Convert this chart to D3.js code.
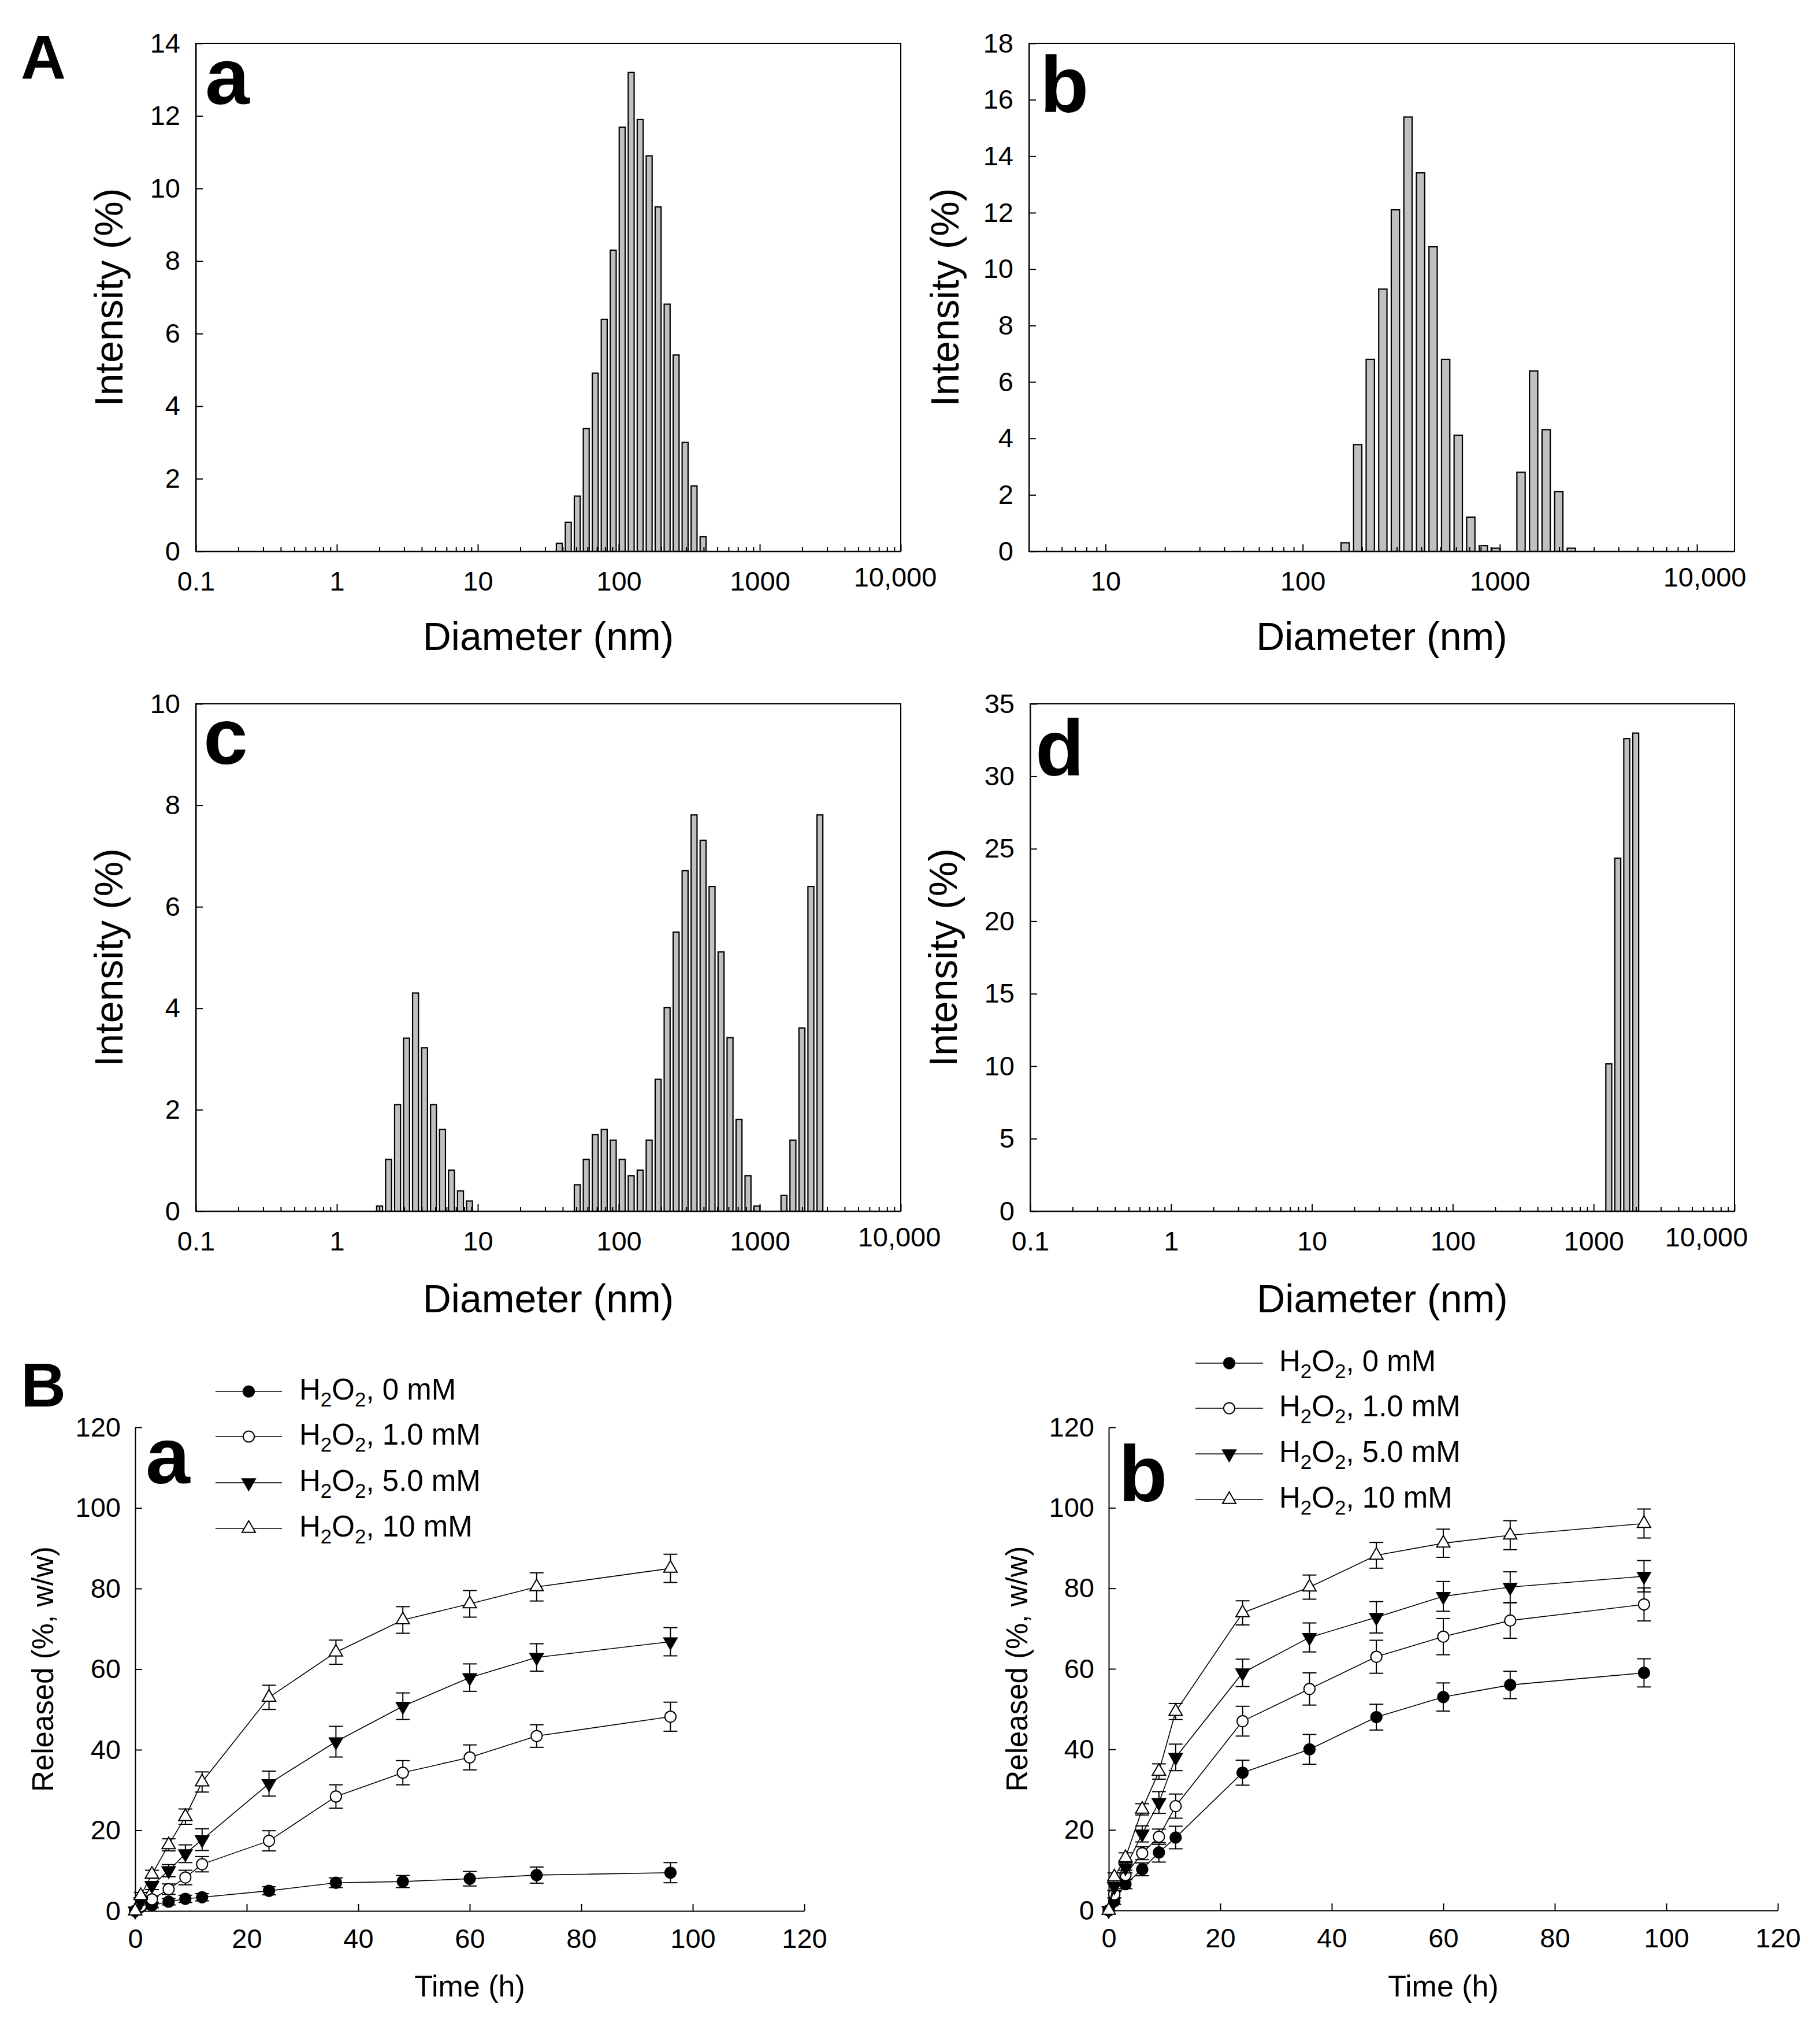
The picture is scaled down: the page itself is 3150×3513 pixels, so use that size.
<!DOCTYPE html>
<html><head><meta charset="utf-8">
<script src="https://cdn.jsdelivr.net/npm/d3@7"></script>
<style>
body{margin:0;background:#fff}
svg{display:block}
text{font-family:"Liberation Sans",Arial,Helvetica,sans-serif;fill:#000}
</style></head>
<body><svg id="fig" width="3150" height="3513"></svg>
<script>
// ---------- DATA ----------
// Panel A: DLS intensity distributions (diameter nm, intensity %)
const diamA_a = [37.84, 43.82, 50.75, 58.77, 68.06, 78.82, 91.28, 105.7, 122.4, 141.8, 164.2, 190.1, 220.2, 255.0, 295.3, 342.0, 396.1];
const intenA_a = [0.22, 0.80, 1.52, 3.38, 4.91, 6.39, 8.30, 11.69, 13.20, 11.90, 10.90, 9.49, 6.81, 5.41, 3.00, 1.80, 0.40];

const diamA_b = [164.2, 190.1, 220.2, 255.0, 295.3, 342.0, 396.1, 458.7, 531.2, 615.1, 712.4, 825.0, 955.4, 1281, 1484, 1718, 1990, 2305];
const intenA_b = [0.30, 3.78, 6.80, 9.29, 12.10, 15.39, 13.41, 10.79, 6.80, 4.11, 1.21, 0.20, 0.11, 2.80, 6.39, 4.31, 2.11, 0.11];

const diamA_c = [2.010, 2.328, 2.696, 3.122, 3.615, 4.187, 4.849, 5.615, 6.503, 7.531, 8.721,
                 50.75, 58.77, 68.06, 78.82, 91.28, 105.7, 122.4, 141.8, 164.2, 190.1, 220.2, 255.0, 295.3, 342.0, 396.1, 458.7, 531.2, 615.1, 712.4, 825.0, 955.4,
                 1484, 1718, 1990, 2305, 2669];
const intenA_c = [0.10, 1.02, 2.10, 3.41, 4.30, 3.22, 2.10, 1.61, 0.81, 0.40, 0.20,
                  0.52, 1.02, 1.51, 1.61, 1.40, 1.02, 0.70, 0.81, 1.40, 2.60, 4.01, 5.50, 6.71, 7.81, 7.31, 6.40, 5.11, 3.42, 1.81, 0.70, 0.10,
                  0.31, 1.40, 3.61, 6.40, 7.81];

const diamA_d = [1281, 1484, 1718, 1990];
const intenA_d = [10.16, 24.35, 32.60, 32.98];

const xTickLabelsLog = [[0.1, "0.1"], [1, "1"], [10, "10"], [100, "100"], [1000, "1000"], [10000, "10,000"]];

// Panel B: release profiles
const times = [0, 1, 3, 6, 9, 12, 24, 36, 48, 60, 72, 96];
const seriesNames = ["0 mM", "1.0 mM", "5.0 mM", "10 mM"];

const Ba_0mM   = [0, 1.0, 1.4, 2.3, 3.0, 3.4, 5.0, 7.0, 7.3, 8.0, 8.9, 9.5];
const Ba_0mM_e = [0, 0.5, 0.6, 0.8, 0.9, 0.9, 1.0, 1.2, 1.5, 1.8, 2.0, 2.5];
const Ba_1mM   = [0, 1.2, 2.9, 5.4, 8.3, 11.6, 17.4, 28.4, 34.3, 38.1, 43.4, 48.2];
const Ba_1mM_e = [0, 0.6, 0.8, 1.3, 1.8, 1.9, 2.5, 2.9, 3.0, 3.1, 2.8, 3.6];
const Ba_5mM   = [0, 2.3, 6.3, 10.0, 14.2, 17.7, 31.6, 42.0, 50.8, 57.9, 62.9, 66.8];
const Ba_5mM_e = [0, 0.8, 1.0, 1.5, 2.2, 2.7, 3.1, 3.8, 3.3, 3.4, 3.4, 3.5];
const Ba_10mM  = [0, 3.8, 9.1, 16.4, 23.4, 32.0, 53.0, 64.2, 72.2, 76.2, 80.4, 85.0];
const Ba_10mM_e= [0, 0.8, 1.0, 1.5, 1.9, 2.5, 3.0, 3.0, 3.3, 3.3, 3.5, 3.5];

const Bb_0mM   = [0, 2.3, 6.5, 10.2, 14.4, 18.1, 34.2, 40.0, 48.0, 53.0, 56.0, 59.0];
const Bb_0mM_e = [0, 0.8, 1.1, 1.6, 2.4, 2.8, 3.1, 3.7, 3.2, 3.5, 3.4, 3.5];
const Bb_1mM   = [0, 4.0, 8.8, 14.2, 18.3, 25.9, 47.0, 55.0, 63.0, 68.0, 72.0, 76.0];
const Bb_1mM_e = [0, 0.9, 1.2, 1.6, 1.9, 3.0, 3.7, 4.0, 4.1, 4.5, 4.4, 4.1];
const Bb_5mM   = [0, 5.9, 10.6, 19.0, 26.8, 38.0, 59.0, 67.8, 72.8, 78.0, 80.3, 83.0];
const Bb_5mM_e = [0, 1.0, 1.3, 2.0, 2.7, 3.3, 3.4, 3.6, 3.9, 3.7, 3.8, 3.9];
const Bb_10mM  = [0, 8.3, 13.1, 25.1, 34.5, 49.4, 73.9, 80.3, 88.2, 91.2, 93.2, 96.1];
const Bb_10mM_e= [0, 1.0, 1.2, 1.4, 1.9, 2.0, 3.0, 3.0, 3.2, 3.5, 3.6, 3.6];

const releaseTicks = [0, 20, 40, 60, 80, 100, 120];

// ---------- DRAWING ----------
const svg = d3.select("#fig");
svg.append("rect").attr("width", 3150).attr("height", 3513).attr("fill", "#fff");

const TICK_FS = 47, TITLE_FS = 68, LETTER_FS = 138, BIG_FS = 108;
const barHalf = Math.pow(10, 0.021); // bar half-width factor on log axis

function styleAxis(g, fs) {
  g.attr("font-family", null).attr("font-size", null);
  g.selectAll("text").style("font-size", fs + "px").attr("fill", "#000");
  g.selectAll("line").attr("stroke", "#000").attr("stroke-width", 2);
  g.selectAll("path.domain").attr("stroke", "#000").attr("stroke-width", 2);
}

function histPanel(o) {
  const x = d3.scaleLog().domain(o.domain).range([o.x0, o.x1]);
  const y = d3.scaleLinear().domain([0, o.yMax]).range([o.yB, o.yT]);
  const g = svg.append("g");

  // bars
  g.selectAll("rect.bar").data(o.diam.map((d, i) => ({d, v: o.inten[i]})))
    .enter().append("rect").attr("class", "bar")
    .attr("x", p => x(p.d / barHalf))
    .attr("width", p => x(p.d * barHalf) - x(p.d / barHalf))
    .attr("y", p => y(p.v))
    .attr("height", p => y(0) - y(p.v))
    .attr("fill", "#c0c0c0").attr("stroke", "#000").attr("stroke-width", 2.2);

  // minor ticks
  const minors = [];
  for (let dec = 0.1; dec < 20000; dec *= 10) {
    for (let k = 2; k <= 9; k++) {
      const v = dec * k;
      if (v > o.domain[0] && v < o.domain[1]) minors.push(v);
    }
  }
  const gMin = g.append("g").attr("transform", `translate(0,${o.yB})`)
    .call(d3.axisBottom(x).tickValues(minors).tickSizeInner(-7).tickSizeOuter(0).tickFormat(""));
  styleAxis(gMin, TICK_FS);
  gMin.select("path.domain").remove();

  // major ticks + labels
  const majors = xTickLabelsLog.filter(t => t[0] >= o.domain[0] * 0.999 && t[0] <= o.domain[1] * 1.001);
  const labelMap = new Map(majors);
  const gX = g.append("g").attr("transform", `translate(0,${o.yB})`)
    .call(d3.axisBottom(x).tickValues(majors.map(t => t[0])).tickSizeInner(-12).tickSizeOuter(0)
      .tickPadding(35).tickFormat(v => labelMap.get(v)));
  styleAxis(gX, TICK_FS);
  gX.selectAll(".tick").filter(v => v === 10000).select("text")
    .attr("x", o.tenKShift).attr("dy", "0.55em");

  // y axis
  const yTicks = d3.range(0, o.yMax + 0.001, o.yStep);
  const gY = g.append("g").attr("transform", `translate(${o.x0},0)`)
    .call(d3.axisLeft(y).tickValues(yTicks).tickSizeInner(-12).tickSizeOuter(0).tickPadding(27).tickFormat(d3.format("d")));
  styleAxis(gY, TICK_FS);

  // frame
  g.append("rect").attr("x", o.x0).attr("y", o.yT).attr("width", o.x1 - o.x0).attr("height", o.yB - o.yT)
    .attr("fill", "none").attr("stroke", "#000").attr("stroke-width", 2);

  // titles
  g.append("text").attr("x", (o.x0 + o.x1) / 2).attr("y", o.xTitleY).attr("text-anchor", "middle")
    .style("font-size", TITLE_FS + "px").text("Diameter (nm)");
  g.append("text").attr("transform", `translate(${o.yTitleX},${(o.yT + o.yB) / 2}) rotate(-90)`)
    .attr("text-anchor", "middle").style("font-size", TITLE_FS + "px").text("Intensity (%)");
  g.append("text").attr("x", o.lx).attr("y", o.ly).style("font-size", LETTER_FS + "px")
    .style("font-weight", "bold").text(o.letter);
}

histPanel({x0: 339, x1: 1559, yT: 75, yB: 954, domain: [0.1, 10000], yMax: 14, yStep: 2,
  diam: diamA_a, inten: intenA_a, letter: "a", lx: 355, ly: 180, yTitleX: 212, xTitleY: 1125, tenKShift: -10});
histPanel({x0: 1781, x1: 3002, yT: 75, yB: 954, domain: [4.09, 15500], yMax: 18, yStep: 2,
  diam: diamA_b, inten: intenA_b, letter: "b", lx: 1800, ly: 194, yTitleX: 1659, xTitleY: 1125, tenKShift: 13});
histPanel({x0: 339, x1: 1559, yT: 1218, yB: 2096, domain: [0.1, 10000], yMax: 10, yStep: 2,
  diam: diamA_c, inten: intenA_c, letter: "c", lx: 352, ly: 1322, yTitleX: 212, xTitleY: 2271, tenKShift: -3});
histPanel({x0: 1783, x1: 3002, yT: 1218, yB: 2096, domain: [0.1, 10000], yMax: 35, yStep: 5,
  diam: diamA_d, inten: intenA_d, letter: "d", lx: 1792, ly: 1342, yTitleX: 1656, xTitleY: 2271, tenKShift: -49});

svg.append("text").attr("x", 36).attr("y", 136).style("font-size", BIG_FS + "px").style("font-weight", "bold").text("A");
svg.append("text").attr("x", 36).attr("y", 2434).style("font-size", BIG_FS + "px").style("font-weight", "bold").text("B");

// ---------- Panel B ----------
const markerStyles = [
  {type: d3.symbolCircle, size: 290, fill: "#000", rot: 0},
  {type: d3.symbolCircle, size: 290, fill: "#fff", rot: 0},
  {type: d3.symbolTriangle, size: 230, fill: "#000", rot: 180},
  {type: d3.symbolTriangle, size: 230, fill: "#fff", rot: 0}
];

function drawMarker(g, cx, cy, s) {
  g.append("path").attr("d", d3.symbol().type(s.type).size(s.size)())
    .attr("transform", `translate(${cx},${cy}) rotate(${s.rot})`)
    .attr("fill", s.fill).attr("stroke", "#000").attr("stroke-width", 2);
}

function releasePanel(o) {
  const x = d3.scaleLinear().domain([0, 120]).range([o.x0, o.x1]);
  const y = d3.scaleLinear().domain([0, 120]).range([o.yB, o.yT]);
  const g = svg.append("g");

  const gX = g.append("g").attr("transform", `translate(0,${o.yB})`)
    .call(d3.axisBottom(x).tickValues(releaseTicks).tickSizeInner(-12).tickSizeOuter(0).tickPadding(31));
  styleAxis(gX, TICK_FS);
  const gY = g.append("g").attr("transform", `translate(${o.x0},0)`)
    .call(d3.axisLeft(y).tickValues(releaseTicks).tickSizeInner(-12).tickSizeOuter(0).tickPadding(25));
  styleAxis(gY, TICK_FS);

  const line = d3.line().x((d, i) => x(times[i])).y(d => y(d));
  o.series.forEach((s, si) => {
    const sg = g.append("g");
    sg.append("path").attr("d", line(s.v)).attr("fill", "none").attr("stroke", "#000").attr("stroke-width", 1.6);
    s.v.forEach((v, i) => {
      const e = s.e[i];
      if (e > 0) {
        const cx = x(times[i]);
        sg.append("line").attr("x1", cx).attr("x2", cx).attr("y1", y(v - e)).attr("y2", y(v + e))
          .attr("stroke", "#000").attr("stroke-width", 2);
        [v - e, v + e].forEach(w => sg.append("line").attr("x1", cx - 12).attr("x2", cx + 12)
          .attr("y1", y(w)).attr("y2", y(w)).attr("stroke", "#000").attr("stroke-width", 2));
      }
    });
    s.v.forEach((v, i) => drawMarker(sg, x(times[i]), y(v), markerStyles[si]));
  });

  // legend
  seriesNames.forEach((nm, i) => {
    const ry = o.legRows[i];
    g.append("line").attr("x1", o.legX0).attr("x2", o.legX1).attr("y1", ry).attr("y2", ry)
      .attr("stroke", "#000").attr("stroke-width", 1.6);
    drawMarker(g, (o.legX0 + o.legX1) / 2, ry, markerStyles[i]);
    const t = g.append("text").attr("x", o.legTextX).attr("y", ry + 14).style("font-size", "51px");
    t.append("tspan").text("H");
    t.append("tspan").attr("dy", 12).style("font-size", "35px").text("2");
    t.append("tspan").attr("dy", -12).text("O");
    t.append("tspan").attr("dy", 12).style("font-size", "35px").text("2");
    t.append("tspan").attr("dy", -12).text(", " + nm);
  });

  g.append("text").attr("x", (o.x0 + o.x1) / 2).attr("y", 3455).attr("text-anchor", "middle")
    .style("font-size", "52px").text("Time (h)");
  g.append("text").attr("transform", `translate(${o.yTitleX},${(o.yT + o.yB) / 2}) rotate(-90)`)
    .attr("text-anchor", "middle").style("font-size", "51px").text("Released (%, w/w)");
  g.append("text").attr("x", o.lx).attr("y", o.ly).style("font-size", LETTER_FS + "px")
    .style("font-weight", "bold").text(o.letter);
}

releasePanel({x0: 234, x1: 1392, yT: 2470, yB: 3307,
  series: [{v: Ba_0mM, e: Ba_0mM_e}, {v: Ba_1mM, e: Ba_1mM_e}, {v: Ba_5mM, e: Ba_5mM_e}, {v: Ba_10mM, e: Ba_10mM_e}],
  legRows: [2408, 2486, 2566, 2645], legX0: 373, legX1: 488, legTextX: 518,
  yTitleX: 92, letter: "a", lx: 252, ly: 2567});
releasePanel({x0: 1919, x1: 3077, yT: 2470, yB: 3306,
  series: [{v: Bb_0mM, e: Bb_0mM_e}, {v: Bb_1mM, e: Bb_1mM_e}, {v: Bb_5mM, e: Bb_5mM_e}, {v: Bb_10mM, e: Bb_10mM_e}],
  legRows: [2359, 2437, 2516, 2595], legX0: 2069, legX1: 2186, legTextX: 2214,
  yTitleX: 1778, letter: "b", lx: 1936, ly: 2598});
</script></body></html>
